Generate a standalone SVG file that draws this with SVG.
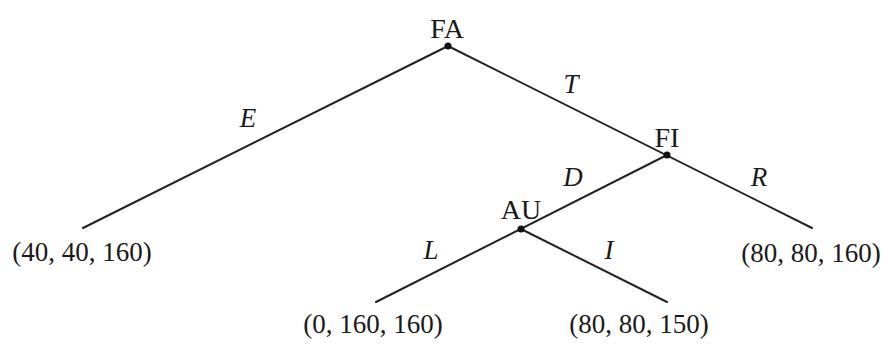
<svg xmlns="http://www.w3.org/2000/svg" width="882" height="345" viewBox="0 0 882 345">
<style>
.edge{stroke:#222;stroke-width:2;fill:none;stroke-linecap:round}
.dot{fill:#111}
.lbl{font-family:"Liberation Serif",serif;font-size:28px;fill:#1a1a1a;text-anchor:middle}
.tup{font-family:"Liberation Serif",serif;font-size:27px;fill:#1a1a1a;text-anchor:middle}
.it{font-family:"Liberation Serif",serif;font-size:27px;font-style:italic;fill:#1a1a1a;text-anchor:middle}
</style>
<rect width="882" height="345" fill="#fff"/>
<g id="connectors">
<line class="edge" x1="448" y1="46" x2="83" y2="228"/>
<line class="edge" x1="448" y1="46" x2="812" y2="228"/>
<line class="edge" x1="667" y1="155" x2="376" y2="302"/>
<line class="edge" x1="521" y1="229" x2="667" y2="302"/>
<text class="it" x="248" y="127">E</text>
<text class="it" x="571" y="93">T</text>
<text class="it" x="573" y="186">D</text>
<text class="it" x="759" y="186">R</text>
<text class="it" x="431" y="259">L</text>
<text class="it" x="609" y="259">I</text>
</g>
<g id="node-FA"><circle class="dot" cx="448" cy="46" r="3.5"/><text class="lbl" x="447" y="38">FA</text></g>
<g id="node-FI"><circle class="dot" cx="667" cy="155" r="3.5"/><text class="lbl" x="667" y="147">FI</text></g>
<g id="node-AU"><circle class="dot" cx="521" cy="229" r="3.5"/><text class="lbl" x="521" y="219">AU</text></g>
<g id="leaf-E"><text class="tup" x="82" y="261">(40, 40, 160)</text></g>
<g id="leaf-R"><text class="tup" x="811" y="262">(80, 80, 160)</text></g>
<g id="leaf-L"><text class="tup" x="373" y="333">(0, 160, 160)</text></g>
<g id="leaf-I"><text class="tup" x="639" y="333">(80, 80, 150)</text></g>
</svg>
